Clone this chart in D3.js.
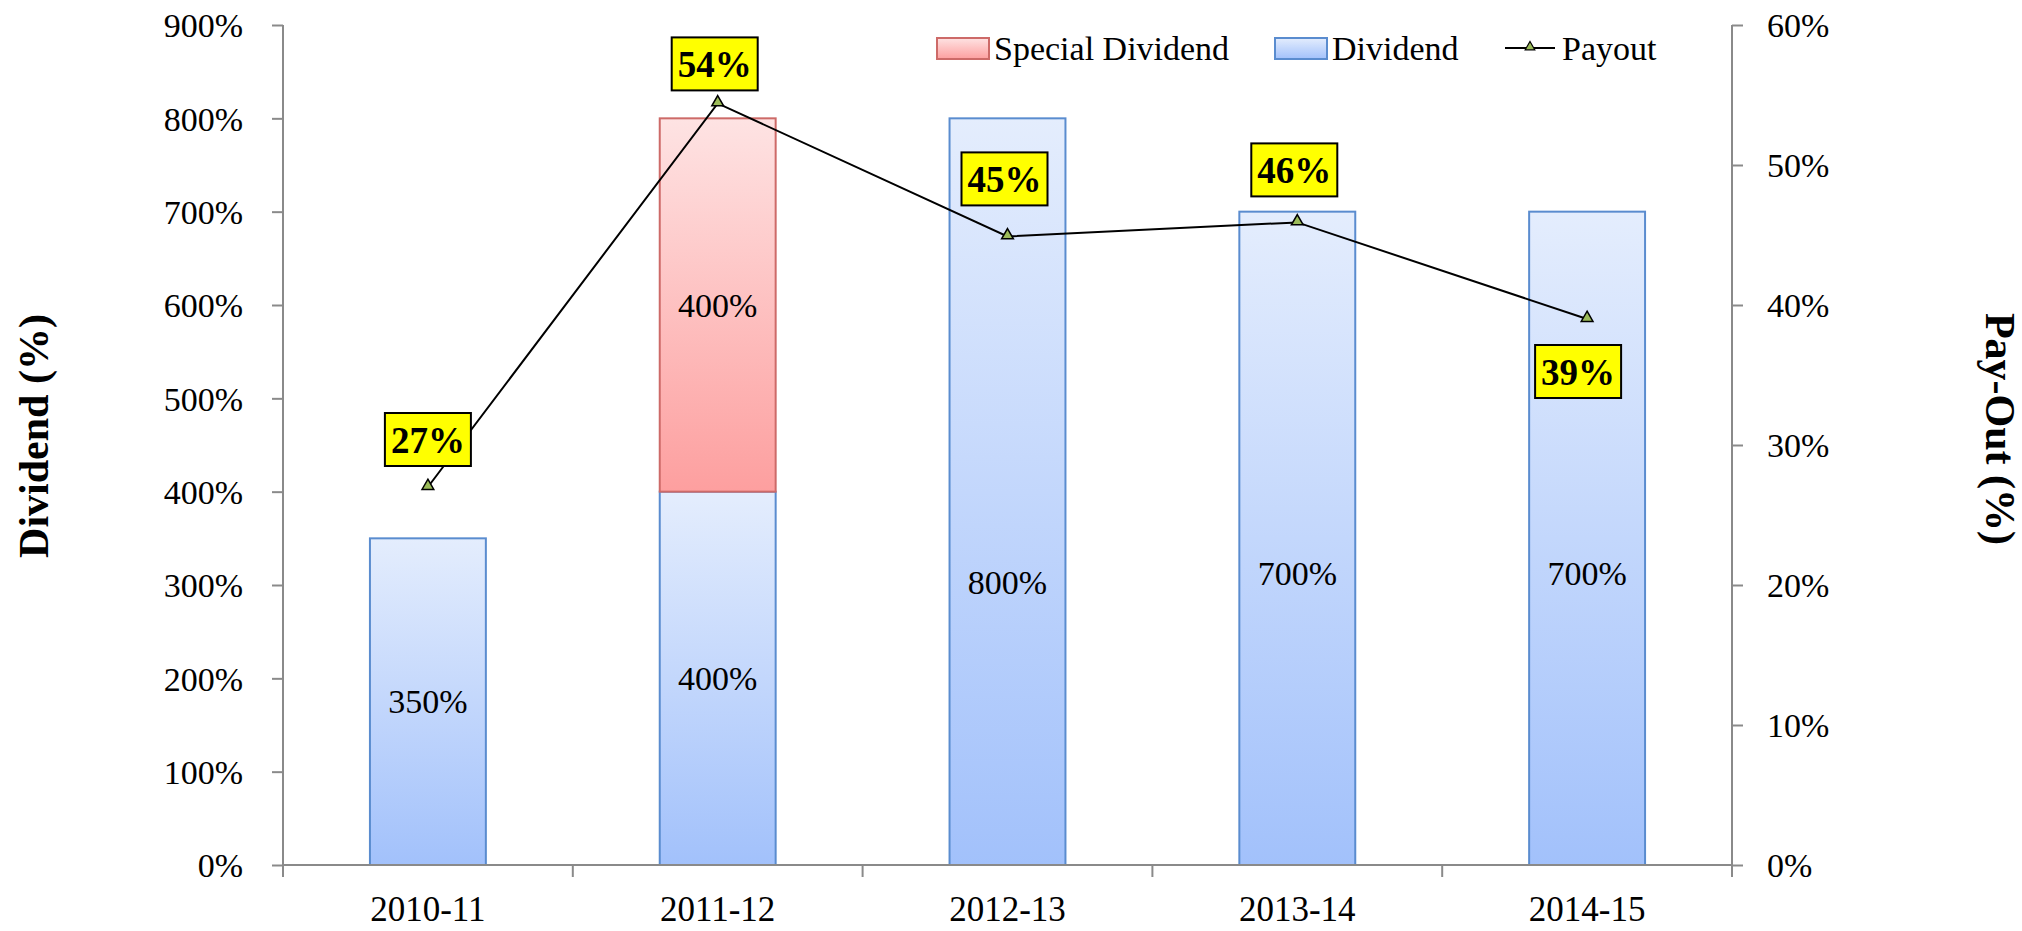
<!DOCTYPE html>
<html>
<head>
<meta charset="utf-8">
<script src="https://cdn.jsdelivr.net/npm/d3@7"></script>
<style>
  body { margin: 0; background: #fff; }
  svg { display: block; font-family: "Liberation Serif", "DejaVu Serif", serif; }
</style>
</head>
<body>
<div id="chart"></div>
<script>
// data
let years = ["2010-11", "2011-12", "2012-13", "2013-14", "2014-15"];
let dividend = [350, 400, 800, 700, 700];
let specialDividend = [0, 400, 0, 0, 0];
let payout = [27, 54.4, 44.9, 45.9, 39];
let leftTicks = [0, 100, 200, 300, 400, 500, 600, 700, 800, 900];
let rightTicks = [0, 10, 20, 30, 40, 50, 60];

// where the in-bar labels sit (in dividend units) and label box offsets (px)
let dividendLabelAt = [175, 200, 303, 312, 312];
let payoutLabelOffset = [[0, -47], [-3, -39], [-3, -57], [-3, -52], [-9, 53]];

let width = 2022, height = 931;
let plotLeft = 283, plotRight = 1732, plotTop = 25, plotBottom = 865;
let axisColor = "#8a8a8a";

let svg = d3.select("#chart").append("svg")
    .attr("width", width)
    .attr("height", height);

let defs = svg.append("defs");
function gradient(id, c1, c2) {
    let g = defs.append("linearGradient").attr("id", id)
        .attr("x1", 0).attr("y1", 0).attr("x2", 0).attr("y2", 1);
    g.append("stop").attr("offset", "0%").attr("stop-color", c1);
    g.append("stop").attr("offset", "100%").attr("stop-color", c2);
}
gradient("blueGrad", "#e4edfd", "#a2c1fb");
gradient("redGrad", "#fee3e3", "#fd9f9f");

let x = d3.scaleBand()
    .domain(years)
    .range([plotLeft, plotRight])
    .paddingInner(0.6)
    .paddingOuter(0.3);

let y = d3.scaleLinear().domain([0, 900]).range([plotBottom, plotTop]);
let y2 = d3.scaleLinear().domain([0, 60]).range([plotBottom, plotTop]);

// bars
let bars = svg.append("g");
bars.selectAll("rect.div")
    .data(years)
    .enter().append("rect")
    .attr("class", "div")
    .attr("x", d => x(d))
    .attr("width", x.bandwidth())
    .attr("y", (d, i) => y(dividend[i]))
    .attr("height", (d, i) => y(0) - y(dividend[i]))
    .attr("fill", "url(#blueGrad)")
    .attr("stroke", "#5a8ccf")
    .attr("stroke-width", 2);

bars.selectAll("rect.spec")
    .data(years.filter((d, i) => specialDividend[i] > 0))
    .enter().append("rect")
    .attr("class", "spec")
    .attr("x", d => x(d))
    .attr("width", x.bandwidth())
    .attr("y", d => { let i = years.indexOf(d); return y(dividend[i] + specialDividend[i]); })
    .attr("height", d => { let i = years.indexOf(d); return y(0) - y(specialDividend[i]); })
    .attr("fill", "url(#redGrad)")
    .attr("stroke", "#cd6a68")
    .attr("stroke-width", 2);

// in-bar labels
bars.selectAll("text.divlab")
    .data(years)
    .enter().append("text")
    .attr("x", d => x(d) + x.bandwidth() / 2)
    .attr("y", (d, i) => y(dividendLabelAt[i]))
    .attr("text-anchor", "middle")
    .attr("dominant-baseline", "central")
    .attr("font-size", 34)
    .text((d, i) => dividend[i] + "%");

years.forEach((d, i) => {
    if (!specialDividend[i]) return;
    bars.append("text")
        .attr("x", x(d) + x.bandwidth() / 2)
        .attr("y", y(dividend[i] + specialDividend[i] / 2))
        .attr("text-anchor", "middle")
        .attr("dominant-baseline", "central")
        .attr("font-size", 34)
        .text(specialDividend[i] + "%");
});

// axes
let yAxis = d3.axisLeft(y).tickValues(leftTicks).tickSize(11).tickSizeOuter(0).tickPadding(29)
    .tickFormat(d => d + "%");
let gL = svg.append("g").attr("transform", "translate(" + plotLeft + ",0)").call(yAxis);

let yAxis2 = d3.axisRight(y2).tickValues(rightTicks).tickSize(11).tickSizeOuter(0).tickPadding(24)
    .tickFormat(d => d + "%");
let gR = svg.append("g").attr("transform", "translate(" + plotRight + ",0)").call(yAxis2);

[gL, gR].forEach(g => {
    g.select(".domain").remove();
    g.attr("font-family", null).attr("font-size", null);
    g.selectAll("line").attr("stroke", axisColor).attr("stroke-width", 2);
    g.selectAll("text").attr("font-size", 34).attr("fill", "#000").attr("dy", "0.35em");
});
gL.append("line").attr("y1", plotTop).attr("y2", plotBottom + 12).attr("stroke", axisColor).attr("stroke-width", 2);
gR.append("line").attr("y1", plotTop).attr("y2", plotBottom + 12).attr("stroke", axisColor).attr("stroke-width", 2);

// x axis
let step = x.step();
let gX = svg.append("g");
gX.append("line").attr("x1", plotLeft).attr("x2", plotRight).attr("y1", plotBottom).attr("y2", plotBottom)
    .attr("stroke", axisColor).attr("stroke-width", 2);
gX.selectAll("line.tick")
    .data(d3.range(years.length + 1))
    .enter().append("line")
    .attr("x1", i => plotLeft + i * step).attr("x2", i => plotLeft + i * step)
    .attr("y1", plotBottom).attr("y2", plotBottom + 12)
    .attr("stroke", axisColor).attr("stroke-width", 2);
gX.selectAll("text")
    .data(years)
    .enter().append("text")
    .attr("x", d => x(d) + x.bandwidth() / 2)
    .attr("y", 921)
    .attr("text-anchor", "middle")
    .attr("font-size", 35)
    .text(d => d);

// payout line
let px = (d, i) => x(years[i]) + x.bandwidth() / 2;
let line = d3.line().x(px).y(d => y2(d));
svg.append("path")
    .datum(payout)
    .attr("d", line)
    .attr("fill", "none")
    .attr("stroke", "#000")
    .attr("stroke-width", 2);

let tri = d3.symbol().type(d3.symbolTriangle).size(60);
svg.selectAll("path.mark")
    .data(payout)
    .enter().append("path")
    .attr("class", "mark")
    .attr("d", tri)
    .attr("transform", (d, i) => "translate(" + px(d, i) + "," + (y2(d) - 1) + ")")
    .attr("fill", "#9bbb59")
    .attr("stroke", "#000")
    .attr("stroke-width", 1.5);

// payout labels
let labs = svg.selectAll("g.plab")
    .data(payout)
    .enter().append("g")
    .attr("transform", (d, i) => "translate(" + (px(d, i) + payoutLabelOffset[i][0]) + "," + (y2(d) + payoutLabelOffset[i][1]) + ")");
labs.append("rect")
    .attr("x", -43).attr("y", -27).attr("width", 86).attr("height", 53)
    .attr("fill", "#ffff00").attr("stroke", "#000").attr("stroke-width", 2);
labs.append("text")
    .attr("text-anchor", "middle")
    .attr("dominant-baseline", "central")
    .attr("font-size", 37)
    .attr("font-weight", "bold")
    .text(d => Math.round(d) + "%");

// axis titles
svg.append("text")
    .attr("transform", "translate(48,436) rotate(-90)")
    .attr("text-anchor", "middle")
    .attr("font-size", 42)
    .attr("font-weight", "bold")
    .text("Dividend (%)");
svg.append("text")
    .attr("transform", "translate(1986,429) rotate(90)")
    .attr("text-anchor", "middle")
    .attr("font-size", 42)
    .attr("font-weight", "bold")
    .text("Pay-Out (%)");

// legend
let legend = svg.append("g").attr("font-size", 34);
let legendItems = [
    {name: "Special Dividend", x: 937, type: "rect", fill: "url(#redGrad)", stroke: "#cd6a68"},
    {name: "Dividend", x: 1275, type: "rect", fill: "url(#blueGrad)", stroke: "#5a8ccf"},
    {name: "Payout", x: 1505, type: "line"}
];
legendItems.forEach(it => {
    let g = legend.append("g").attr("transform", "translate(" + it.x + ",48)");
    if (it.type === "rect") {
        g.append("rect").attr("x", 0).attr("y", -10).attr("width", 52).attr("height", 21)
            .attr("fill", it.fill).attr("stroke", it.stroke).attr("stroke-width", 2);
    } else {
        g.append("line").attr("x1", 0).attr("x2", 50).attr("y1", 0).attr("y2", 0)
            .attr("stroke", "#000").attr("stroke-width", 2);
        g.append("path").attr("d", d3.symbol().type(d3.symbolTriangle).size(40))
            .attr("transform", "translate(25,-1)")
            .attr("fill", "#9bbb59").attr("stroke", "#000").attr("stroke-width", 1.2);
    }
    g.append("text").attr("x", 57).attr("dy", "0.35em").text(it.name);
});
</script>
</body>
</html>
